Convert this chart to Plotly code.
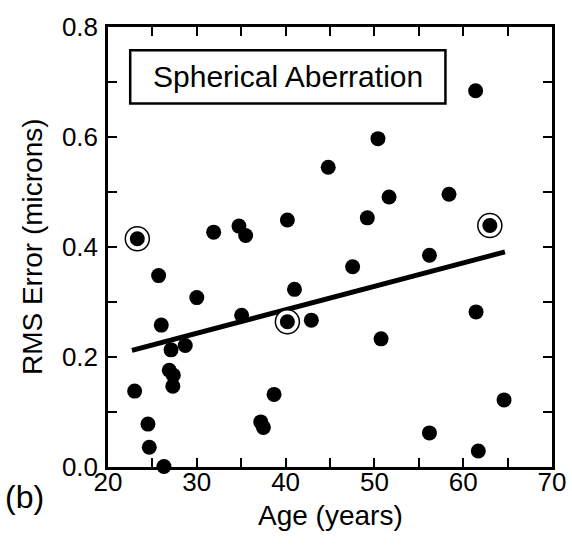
import plotly.graph_objects as go

# Data
age = [23.3, 25.7, 26.0, 23.0, 24.5, 24.65, 26.3, 27.1, 28.7, 26.9, 27.35, 27.3,
       30.0, 31.9, 34.75, 35.5, 35.05, 37.2, 37.5, 38.7, 40.2, 40.2, 41.0, 42.9,
       44.8, 47.55, 49.2, 50.4, 50.75, 51.65, 56.2, 56.2, 58.4, 61.4, 61.45, 61.7,
       63.0, 64.6]
rms = [0.415, 0.348, 0.258, 0.138, 0.078, 0.036, 0.001, 0.213, 0.221, 0.176, 0.167, 0.147,
       0.308, 0.427, 0.438, 0.421, 0.276, 0.082, 0.072, 0.132, 0.449, 0.264, 0.323, 0.267,
       0.545, 0.364, 0.453, 0.597, 0.233, 0.491, 0.385, 0.062, 0.496, 0.684, 0.282, 0.029,
       0.439, 0.122]
circled_age = [23.3, 40.2, 63.0]
circled_rms = [0.415, 0.264, 0.439]
fit_age = [22.7, 64.7]
fit_rms = [0.212, 0.391]

x_tickvals = [20, 25, 30, 35, 40, 45, 50, 55, 60, 65, 70]
x_ticktext = ["20", "", "30", "", "40", "", "50", "", "60", "", "70"]
y_tickvals = [0.0, 0.1, 0.2, 0.3, 0.4, 0.5, 0.6, 0.7, 0.8]
y_ticktext = ["0.0", "", "0.2", "", "0.4", "", "0.6", "", "0.8"]

FONT = "Liberation Sans, Arial, Helvetica, sans-serif"

fig = go.Figure()
fig.add_trace(go.Scatter(x=fit_age, y=fit_rms, mode="lines",
                         line=dict(color="black", width=5), showlegend=False,
                         hoverinfo="skip"))
fig.add_trace(go.Scatter(x=circled_age, y=circled_rms, mode="markers",
                         marker=dict(symbol="circle", size=24, color="white",
                                     line=dict(color="black", width=1.5)),
                         showlegend=False, cliponaxis=False))
fig.add_trace(go.Scatter(x=age, y=rms, mode="markers",
                         marker=dict(symbol="circle", size=15, color="black",
                                     line=dict(width=0)),
                         showlegend=False, cliponaxis=False))

axis_common = dict(showgrid=False, zeroline=False, showline=True, linecolor="black",
                   linewidth=2.5, mirror="allticks", ticks="inside", ticklen=9,
                   tickwidth=2, tickcolor="black", automargin=False,
                   tickfont=dict(family=FONT, size=26, color="black"))

fig.update_xaxes(range=[20, 70], tickmode="array", tickvals=x_tickvals,
                 ticktext=x_ticktext, ticklabelstandoff=-10, **axis_common)
fig.update_yaxes(range=[0, 0.8], tickmode="array", tickvals=y_tickvals,
                 ticktext=y_ticktext, ticklabelstandoff=2, **axis_common)

# Label box
fig.add_shape(type="rect", xref="paper", yref="paper",
              x0=0.05, x1=0.76, y0=0.826, y1=0.947,
              line=dict(color="black", width=2.5), fillcolor="white", layer="above")
fig.add_annotation(xref="paper", yref="paper", x=0.405, y=0.887,
                   text="Spherical Aberration", showarrow=False,
                   font=dict(family=FONT, size=30, color="black"),
                   xanchor="center", yanchor="middle")

# Axis titles and panel label
fig.add_annotation(xref="paper", yref="paper", x=0.5, y=-0.11,
                   text="Age (years)", showarrow=False,
                   font=dict(family=FONT, size=28, color="black"),
                   xanchor="center", yanchor="middle")
fig.add_annotation(xref="paper", yref="paper", x=-0.171, y=0.5,
                   text="RMS Error (microns)", showarrow=False, textangle=-90,
                   font=dict(family=FONT, size=28, color="black"),
                   xanchor="center", yanchor="middle")
fig.add_annotation(xref="paper", yref="paper", x=-0.188, y=-0.069,
                   text="(b)", showarrow=False,
                   font=dict(family=FONT, size=32, color="black"),
                   xanchor="center", yanchor="middle")

fig.update_layout(width=572, height=555,
                  margin=dict(l=108, r=20, t=27, b=88),
                  paper_bgcolor="white", plot_bgcolor="white",
                  showlegend=False)

fig.write_html("out.html", config={"displayModeBar": False},
               post_script="document.body.style.margin='0px';")
